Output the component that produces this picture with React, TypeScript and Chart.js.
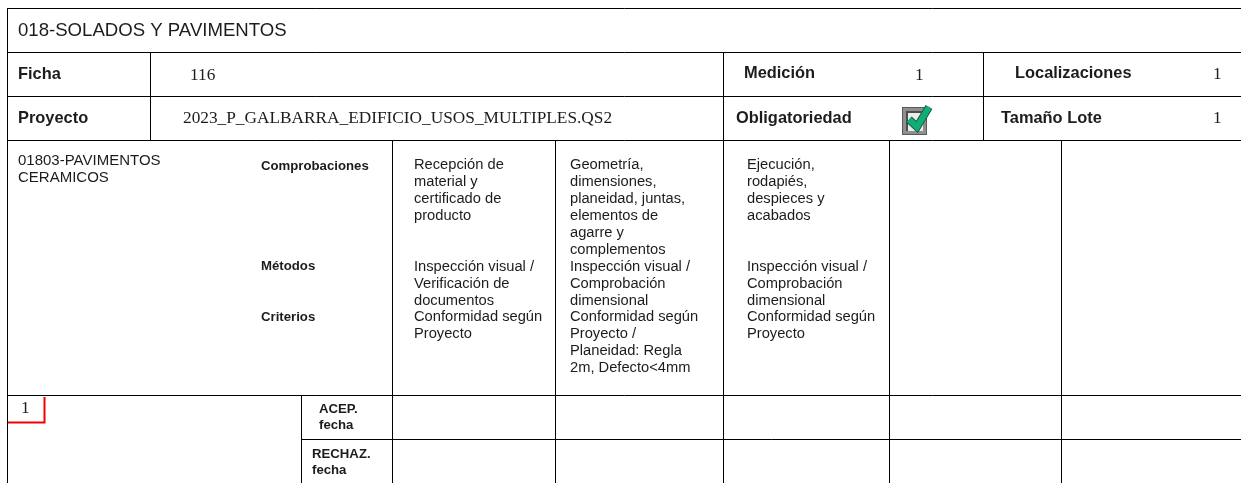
import React, { useEffect, useRef } from "react";
import { Chart, registerables } from "chart.js";

Chart.register(...registerables);

// --- content ---
const sectionTitle = ["018-SOLADOS Y PAVIMENTOS"];
const headerLabels = ["Ficha", "Proyecto", "Medición", "Localizaciones", "Obligatoriedad", "Tamaño Lote"];
const headerValues = ["116", "2023_P_GALBARRA_EDIFICIO_USOS_MULTIPLES.QS2", "1", "1", "1"];
const familyName = ["01803-PAVIMENTOS", "CERAMICOS"];
const rowHeads = ["Comprobaciones", "Métodos", "Criterios"];
const comprobaciones = [
  ["Recepción de", "material y", "certificado de", "producto"],
  ["Geometría,", "dimensiones,", "planeidad, juntas,", "elementos de", "agarre y", "complementos"],
  ["Ejecución,", "rodapiés,", "despieces y", "acabados"],
];
const metodos = [
  ["Inspección visual /", "Verificación de", "documentos"],
  ["Inspección visual /", "Comprobación", "dimensional"],
  ["Inspección visual /", "Comprobación", "dimensional"],
];
const criterios = [
  ["Conformidad según", "Proyecto"],
  ["Conformidad según", "Proyecto /", "Planeidad: Regla", "2m, Defecto<4mm"],
  ["Conformidad según", "Proyecto"],
];
const lotNumber = ["1"];
const verdictLabels = [["ACEP.", "fecha"], ["RECHAZ.", "fecha"]];

// --- layout ---
const W = 1241;
const H = 483;
const SANS = '"Liberation Sans", Arial, sans-serif';
const SERIF = '"Liberation Serif", "Times New Roman", serif';
const INK = "#1c1c1c";
const rowY = [8.5, 52.5, 96.5, 140.5, 395.5, 439.5, 483];
const colX = [7.5, 150.5, 301.5, 392.5, 555.5, 723.5, 889.5, 983.5, 1061.5, 1241];

type Seg = [number, number, number, number];
const rules: Seg[] = [
  [colX[0], rowY[0], W, rowY[0]],
  [colX[0], rowY[1], W, rowY[1]],
  [colX[0], rowY[2], W, rowY[2]],
  [colX[0], rowY[3], W, rowY[3]],
  [colX[0], rowY[4], W, rowY[4]],
  [colX[2], rowY[5], W, rowY[5]],
  [colX[0], rowY[0], colX[0], H],
  [colX[1], rowY[1], colX[1], rowY[3]],
  [colX[5], rowY[1], colX[5], H],
  [colX[7], rowY[1], colX[7], rowY[3]],
  [colX[3], rowY[3], colX[3], H],
  [colX[4], rowY[3], colX[4], H],
  [colX[6], rowY[3], colX[6], H],
  [colX[8], rowY[3], colX[8], H],
  [colX[2], rowY[4], colX[2], H],
];
const rulePoints = rules.flatMap(([a, b, c, d]) => [{ x: a, y: b }, { x: c, y: d }, { x: c, y: NaN }]);
const markerPoints = [{ x: 8, y: 422.5 }, { x: 44.5, y: 422.5 }, { x: 44.5, y: 397 }];

const tableText = {
  id: "tableText",
  afterDatasetsDraw(chart: any) {
    const { ctx, scales } = chart;
    const put = (s: string, x: number, y: number, font: string, align = "left") => {
      ctx.font = font;
      ctx.fillStyle = INK;
      ctx.textAlign = align;
      ctx.textBaseline = "alphabetic";
      ctx.fillText(s, scales.x.getPixelForValue(x), scales.y.getPixelForValue(y));
    };
    const sans = `14.7px ${SANS}`;
    const label = `bold 16.4px ${SANS}`;
    const head = `bold 13.2px ${SANS}`;
    const serif = `17.3px ${SERIF}`;

    put(sectionTitle[0], 18, 36, `18.6px ${SANS}`);

    put(headerLabels[0], 18, 79, label);
    put(headerLabels[1], 18, 123, label);
    put(headerLabels[2], 744, 77.5, label);
    put(headerLabels[3], 1015, 77.5, label);
    put(headerLabels[4], 736, 123, label);
    put(headerLabels[5], 1001, 123, label);

    put(headerValues[0], 190, 80, serif);
    put(headerValues[1], 183, 123, serif);
    put(headerValues[2], 915, 80, serif);
    put(headerValues[3], 1213, 79, serif);
    put(headerValues[4], 1213, 123, serif);

    familyName.forEach((s, i) => put(s, 18, 165 + i * 16.7, `15px ${SANS}`));
    put(rowHeads[0], 261, 170, head);
    put(rowHeads[1], 261, 270, head);
    put(rowHeads[2], 261, 321, head);

    const cols = [414, 570, 747];
    const lh = 17.05;
    cols.forEach((x, c) => {
      comprobaciones[c].forEach((s, i) => put(s, x, 169 + i * lh, sans));
      metodos[c].forEach((s, i) => put(s, x, 271 + i * lh, sans));
      criterios[c].forEach((s, i) => put(s, x, 321 + i * lh, sans));
    });

    put(lotNumber[0], 21, 413, serif);
    put(verdictLabels[0][0], 319, 413, head);
    put(verdictLabels[0][1], 319, 429, head);
    put(verdictLabels[1][0], 312, 458, head);
    put(verdictLabels[1][1], 312, 474, head);

    // check box icon
    ctx.save();
    ctx.translate(scales.x.getPixelForValue(902), scales.y.getPixelForValue(107));
    ctx.fillStyle = "#8f8f8f";
    ctx.fillRect(0, 0, 25, 28);
    ctx.strokeStyle = "#5a5a5a";
    ctx.lineWidth = 1;
    ctx.strokeRect(0.5, 0.5, 24, 27);
    ctx.fillStyle = "#ececec";
    ctx.fillRect(5, 5, 16, 19);
    ctx.fillStyle = "#4d4d4d";
    ctx.fillRect(4, 4, 17, 2);
    ctx.fillRect(4, 4, 2, 20);
    const tick = () => {
      ctx.beginPath();
      ctx.moveTo(7, 12.5);
      ctx.lineTo(15, 20);
      ctx.lineTo(27, 0);
      ctx.stroke();
    };
    ctx.lineJoin = "miter";
    ctx.lineCap = "butt";
    ctx.strokeStyle = "#1a5f43";
    ctx.lineWidth = 8;
    tick();
    ctx.strokeStyle = "#10ae74";
    ctx.lineWidth = 6;
    tick();
    ctx.restore();
  },
};

export default function App() {
  const ref = useRef<HTMLCanvasElement>(null);
  useEffect(() => {
    document.body.style.margin = "0";
    document.body.style.background = "#fff";
    const chart = new Chart(ref.current!, {
      type: "line",
      data: {
        datasets: [
          { label: "rules", data: rulePoints, borderColor: "#000", borderWidth: 1, pointRadius: 0, spanGaps: false, tension: 0 },
          { label: "marker", data: markerPoints, borderColor: "#f00000", borderWidth: 2, borderJoinStyle: "miter", pointRadius: 0, tension: 0 },
        ],
      },
      options: {
        animation: false,
        responsive: false,
        parsing: false,
        layout: { padding: 0 },
        plugins: { legend: { display: false }, tooltip: { enabled: false } },
        scales: {
          x: { type: "linear", min: 0, max: W, display: false },
          y: { type: "linear", min: 0, max: H, reverse: true, display: false },
        },
      },
      plugins: [tableText],
    } as any);
    return () => chart.destroy();
  }, []);
  return <canvas ref={ref} width={W} height={H} style={{ display: "block" }} />;
}
